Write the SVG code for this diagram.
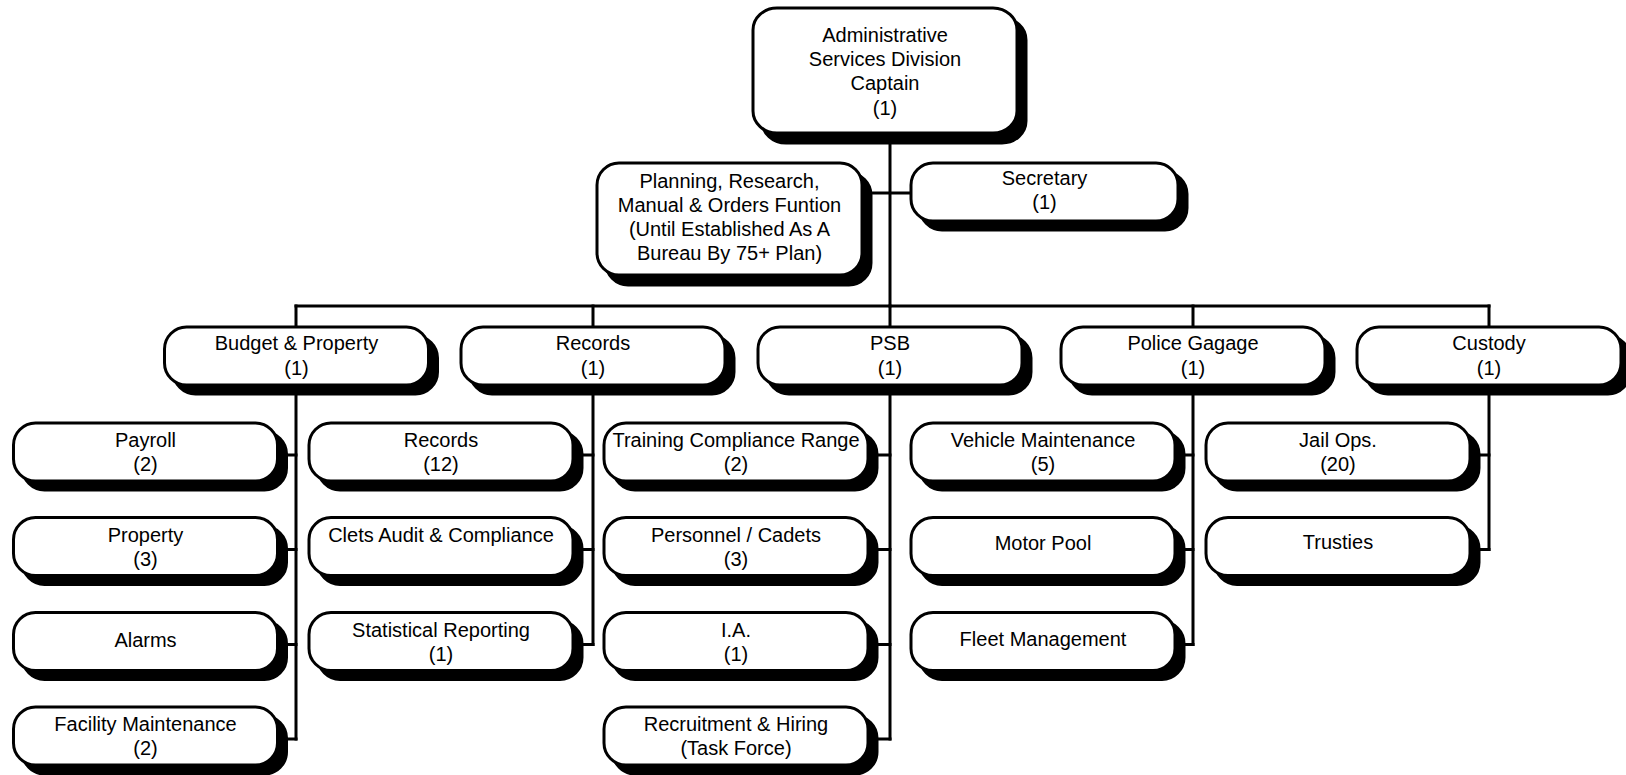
<svg xmlns="http://www.w3.org/2000/svg" width="1626" height="775" viewBox="0 0 1626 775">
<style>
.sh{fill:#000;stroke:#000;stroke-width:3}
.bx{fill:#fff;stroke:#000;stroke-width:3}
.t{font-family:"Liberation Sans",Arial,Helvetica,sans-serif;font-size:20px;fill:#000;text-anchor:middle}
.c{fill:none;stroke:#000;stroke-width:3;stroke-linecap:square}
</style>
<rect width="1626" height="775" fill="#fff"/>
<g id="connectors">
<path class="c" d="M890 140V306"/>
<path class="c" d="M862 193H911"/>
<path class="c" d="M296 306H1489"/>
<path class="c" d="M296 306V330M593 306V330M890 306V330M1193 306V330M1489 306V330"/>
<path class="c" d="M296 390V739M593 390V644.5M890 390V739M1193 390V644.5M1489 390V549.5"/>
<path class="c" d="M277 455H296M277 549.5H296M277 644.5H296M277 739H296"/>
<path class="c" d="M573 455H593M573 549.5H593M573 644.5H593"/>
<path class="c" d="M868 455H890M868 549.5H890M868 644.5H890M868 739H890"/>
<path class="c" d="M1175 455H1193M1175 549.5H1193M1175 644.5H1193"/>
<path class="c" d="M1470 455H1489M1470 549.5H1489"/>
</g>
<g id="admin">
<rect class="sh" x="762" y="18" width="264" height="125" rx="24" ry="22"/>
<rect class="bx" x="753" y="8" width="264" height="125" rx="24" ry="22"/>
<text class="t" x="885" y="42">Administrative</text>
<text class="t" x="885" y="66">Services Division</text>
<text class="t" x="885" y="90">Captain</text>
<text class="t" x="885" y="115">(1)</text>
</g>
<g id="planning">
<rect class="sh" x="606" y="173" width="265" height="112" rx="22" ry="22"/>
<rect class="bx" x="597" y="163" width="265" height="112" rx="22" ry="22"/>
<text class="t" x="729.5" y="188">Planning, Research,</text>
<text class="t" x="729.5" y="212">Manual &amp; Orders Funtion</text>
<text class="t" x="729.5" y="236">(Until Established As A</text>
<text class="t" x="729.5" y="260">Bureau By 75+ Plan)</text>
</g>
<g id="secretary">
<rect class="sh" x="920" y="172" width="267" height="58" rx="22" ry="22"/>
<rect class="bx" x="911" y="163" width="267" height="58" rx="22" ry="22"/>
<text class="t" x="1044.5" y="185">Secretary</text>
<text class="t" x="1044.5" y="209">(1)</text>
</g>
<g id="budget">
<rect class="sh" x="173.5" y="336" width="264" height="58" rx="22" ry="22"/>
<rect class="bx" x="164.5" y="327" width="264" height="58" rx="22" ry="22"/>
<text class="t" x="296.5" y="350">Budget &amp; Property</text>
<text class="t" x="296.5" y="374.5">(1)</text>
</g>
<g id="records">
<rect class="sh" x="470" y="336" width="264" height="58" rx="22" ry="22"/>
<rect class="bx" x="461" y="327" width="264" height="58" rx="22" ry="22"/>
<text class="t" x="593" y="350">Records</text>
<text class="t" x="593" y="374.5">(1)</text>
</g>
<g id="psb">
<rect class="sh" x="767" y="336" width="264" height="58" rx="22" ry="22"/>
<rect class="bx" x="758" y="327" width="264" height="58" rx="22" ry="22"/>
<text class="t" x="890" y="350">PSB</text>
<text class="t" x="890" y="374.5">(1)</text>
</g>
<g id="police">
<rect class="sh" x="1070" y="336" width="264" height="58" rx="22" ry="22"/>
<rect class="bx" x="1061" y="327" width="264" height="58" rx="22" ry="22"/>
<text class="t" x="1193" y="350">Police Gagage</text>
<text class="t" x="1193" y="374.5">(1)</text>
</g>
<g id="custody">
<rect class="sh" x="1366" y="336" width="264" height="58" rx="22" ry="22"/>
<rect class="bx" x="1357" y="327" width="264" height="58" rx="22" ry="22"/>
<text class="t" x="1489" y="350">Custody</text>
<text class="t" x="1489" y="374.5">(1)</text>
</g>
<g id="payroll">
<rect class="sh" x="22.5" y="432" width="264" height="58" rx="22" ry="22"/>
<rect class="bx" x="13.5" y="423" width="264" height="58" rx="22" ry="22"/>
<text class="t" x="145.5" y="447">Payroll</text>
<text class="t" x="145.5" y="471">(2)</text>
</g>
<g id="property">
<rect class="sh" x="22.5" y="526.5" width="264" height="58" rx="22" ry="22"/>
<rect class="bx" x="13.5" y="517.5" width="264" height="58" rx="22" ry="22"/>
<text class="t" x="145.5" y="541.5">Property</text>
<text class="t" x="145.5" y="565.5">(3)</text>
</g>
<g id="alarms">
<rect class="sh" x="22.5" y="621.5" width="264" height="58" rx="22" ry="22"/>
<rect class="bx" x="13.5" y="612.5" width="264" height="58" rx="22" ry="22"/>
<text class="t" x="145.5" y="646.5">Alarms</text>
</g>
<g id="facility">
<rect class="sh" x="22.5" y="716" width="264" height="58" rx="22" ry="22"/>
<rect class="bx" x="13.5" y="707" width="264" height="58" rx="22" ry="22"/>
<text class="t" x="145.5" y="731">Facility Maintenance</text>
<text class="t" x="145.5" y="755">(2)</text>
</g>
<g id="records-unit">
<rect class="sh" x="318" y="432" width="264" height="58" rx="22" ry="22"/>
<rect class="bx" x="309" y="423" width="264" height="58" rx="22" ry="22"/>
<text class="t" x="441" y="447">Records</text>
<text class="t" x="441" y="471">(12)</text>
</g>
<g id="clets">
<rect class="sh" x="318" y="526.5" width="264" height="58" rx="22" ry="22"/>
<rect class="bx" x="309" y="517.5" width="264" height="58" rx="22" ry="22"/>
<text class="t" x="441" y="541.5">Clets Audit &amp; Compliance</text>
</g>
<g id="statistical">
<rect class="sh" x="318" y="621.5" width="264" height="58" rx="22" ry="22"/>
<rect class="bx" x="309" y="612.5" width="264" height="58" rx="22" ry="22"/>
<text class="t" x="441" y="636.5">Statistical Reporting</text>
<text class="t" x="441" y="660.5">(1)</text>
</g>
<g id="training">
<rect class="sh" x="613" y="432" width="264" height="58" rx="22" ry="22"/>
<rect class="bx" x="604" y="423" width="264" height="58" rx="22" ry="22"/>
<text class="t" x="736" y="447">Training Compliance Range</text>
<text class="t" x="736" y="471">(2)</text>
</g>
<g id="personnel">
<rect class="sh" x="613" y="526.5" width="264" height="58" rx="22" ry="22"/>
<rect class="bx" x="604" y="517.5" width="264" height="58" rx="22" ry="22"/>
<text class="t" x="736" y="541.5">Personnel / Cadets</text>
<text class="t" x="736" y="565.5">(3)</text>
</g>
<g id="ia">
<rect class="sh" x="613" y="621.5" width="264" height="58" rx="22" ry="22"/>
<rect class="bx" x="604" y="612.5" width="264" height="58" rx="22" ry="22"/>
<text class="t" x="736" y="636.5">I.A.</text>
<text class="t" x="736" y="660.5">(1)</text>
</g>
<g id="recruitment">
<rect class="sh" x="613" y="716" width="264" height="58" rx="22" ry="22"/>
<rect class="bx" x="604" y="707" width="264" height="58" rx="22" ry="22"/>
<text class="t" x="736" y="731">Recruitment &amp; Hiring</text>
<text class="t" x="736" y="755">(Task Force)</text>
</g>
<g id="vehicle">
<rect class="sh" x="920" y="432" width="264" height="58" rx="22" ry="22"/>
<rect class="bx" x="911" y="423" width="264" height="58" rx="22" ry="22"/>
<text class="t" x="1043" y="447">Vehicle Maintenance</text>
<text class="t" x="1043" y="471">(5)</text>
</g>
<g id="motorpool">
<rect class="sh" x="920" y="526.5" width="264" height="58" rx="22" ry="22"/>
<rect class="bx" x="911" y="517.5" width="264" height="58" rx="22" ry="22"/>
<text class="t" x="1043" y="550">Motor Pool</text>
</g>
<g id="fleet">
<rect class="sh" x="920" y="621.5" width="264" height="58" rx="22" ry="22"/>
<rect class="bx" x="911" y="612.5" width="264" height="58" rx="22" ry="22"/>
<text class="t" x="1043" y="646">Fleet Management</text>
</g>
<g id="jail">
<rect class="sh" x="1215" y="432" width="264" height="58" rx="22" ry="22"/>
<rect class="bx" x="1206" y="423" width="264" height="58" rx="22" ry="22"/>
<text class="t" x="1338" y="447">Jail Ops.</text>
<text class="t" x="1338" y="471">(20)</text>
</g>
<g id="trusties">
<rect class="sh" x="1215" y="526.5" width="264" height="58" rx="22" ry="22"/>
<rect class="bx" x="1206" y="517.5" width="264" height="58" rx="22" ry="22"/>
<text class="t" x="1338" y="549">Trusties</text>
</g>
</svg>
